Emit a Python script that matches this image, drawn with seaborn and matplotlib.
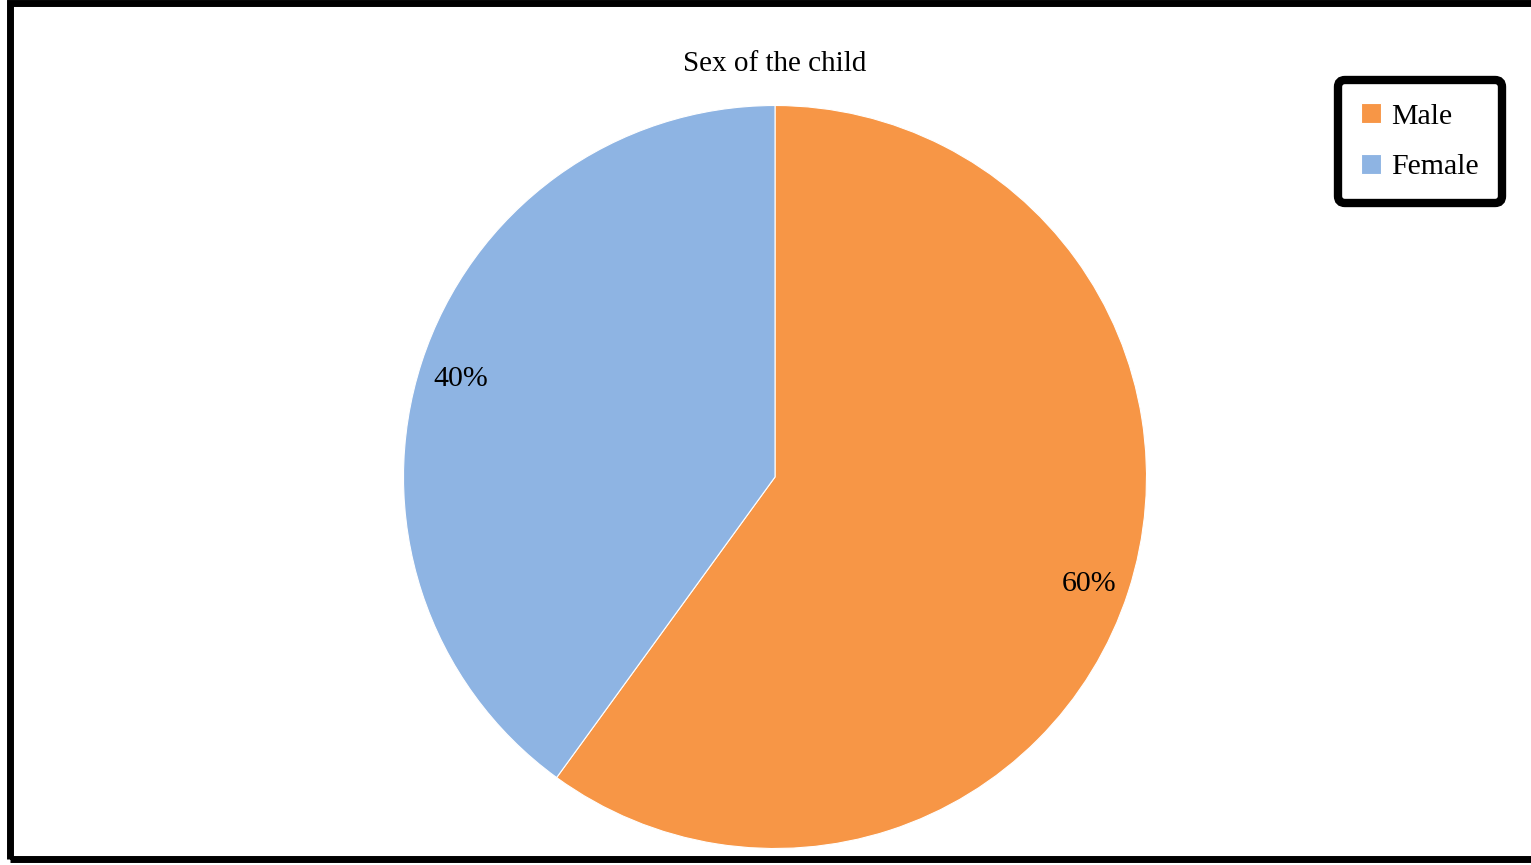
import matplotlib
matplotlib.use("Agg")
import matplotlib.pyplot as plt
import seaborn as sns
from matplotlib.patches import Rectangle

sns.set_theme(style="white")
plt.rcParams['font.family'] = ['Liberation Serif', 'DejaVu Serif']
plt.rcParams['text.color'] = 'black'

labels = ['Male', 'Female']
shares = [60, 40]
colors = ['#F79646', '#8EB4E3']

W, H = 1531, 865
fig = plt.figure(figsize=(W / 100, H / 100), dpi=100)

# outer frame
fig.patches.append(Rectangle((10 / W, 6 / H), 1.2, (862 - 6) / H, transform=fig.transFigure,
                             fill=False, edgecolor='black', linewidth=5, zorder=10))

cx, cy, r = 775, 477, 371.5
ax = fig.add_axes([(cx - r) / W, (H - cy - r) / H, 2 * r / W, 2 * r / H])
wedges, texts, autotexts = ax.pie(shares, colors=colors, startangle=90, counterclock=False,
                                  autopct='%1.0f%%', pctdistance=0.89, radius=1,
                                  wedgeprops=dict(edgecolor='white', linewidth=0.8),
                                  textprops=dict(fontsize=21.5, color='black'))
for t in autotexts:
    x, y = t.get_position()
    t.set_position((x, y - 0.012))
ax.set_xlim(-1, 1)
ax.set_ylim(-1, 1)
ax.set_aspect('equal')
ax.axis('off')

fig.text(cx / W, 1 - 64 / H, 'Sex of the child', ha='center', va='center', fontsize=21, color='black')

leg = fig.legend(wedges, labels, loc='upper right', bbox_to_anchor=(1502 / W, 1 - 80 / H),
                 fontsize=21.5, frameon=True, fancybox=True, handlelength=0.65, handleheight=0.65,
                 handletextpad=0.35, labelspacing=0.8, borderpad=0.78, borderaxespad=0)
for t in leg.get_texts():
    t.set_color('black')
frame = leg.get_frame()
frame.set_edgecolor('black')
frame.set_linewidth(6)
frame.set_alpha(1)
frame.set_boxstyle('round', pad=0, rounding_size=0.25)

fig.savefig('out.png', dpi=100, facecolor='white')
